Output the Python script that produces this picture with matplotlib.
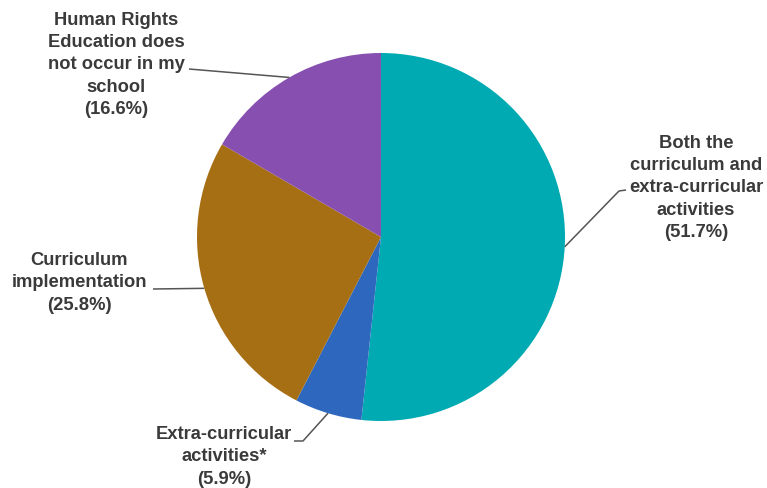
import numpy as np
import matplotlib.pyplot as plt

labels = ['Both the\ncurriculum and\nextra-curricular\nactivities\n(51.7%)',
          'Extra-curricular\nactivities*\n(5.9%)',
          'Curriculum\nimplementation\n(25.8%)',
          'Human Rights\nEducation does\nnot occur in my\nschool\n(16.6%)']
values = [51.7, 5.9, 25.8, 16.6]
colors = ['#00aab2', '#2d68be', '#a66f14', '#864fb0']

# label text centres and leader line start points (pixels, y down)
text_pos = [(696, 188), (224, 457), (79, 283), (116, 65)]
lead_start = [[(626, 191), (619, 192)], [(294, 442), (303, 442)],
              [(153, 290)], [(189, 70)]]

W, H = 767, 489
cx, cy, r = 381, 238, 184

def py(y):
    return H - y

fig = plt.figure(figsize=(W / 100, H / 100), dpi=100)
ax = fig.add_axes([0, 0, 1, 1])

wedges, _ = ax.pie(values, colors=colors, startangle=90, counterclock=False,
                   center=(cx, py(cy)), radius=r, frame=True,
                   wedgeprops=dict(linewidth=0))
ax.set_xlim(0, W)
ax.set_ylim(0, H)
ax.set_aspect('equal')
ax.axis('off')

for w, lab, tp, ls in zip(wedges, labels, text_pos, lead_start):
    mid = np.deg2rad((w.theta1 + w.theta2) / 2)
    ex = cx + r * np.cos(mid)
    ey = py(cy) + r * np.sin(mid)
    xs = [p[0] for p in ls] + [ex]
    ys = [py(p[1]) for p in ls] + [ey]
    ax.plot(xs, ys, color='#555555', lw=1.1, solid_capstyle='butt')
    ax.text(tp[0], py(tp[1]), lab, ha='center', va='center', fontsize=13.2,
            fontweight='bold', family='Liberation Sans', color='#3a3a3a',
            linespacing=1.4)

fig.savefig('out.png', dpi=100, facecolor='white')
